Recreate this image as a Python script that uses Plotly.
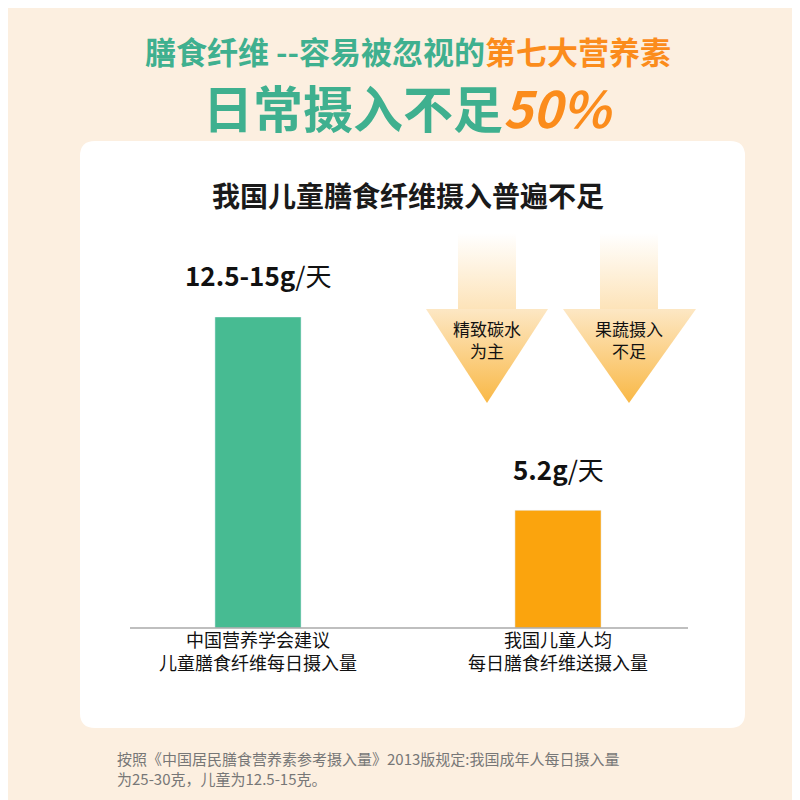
import plotly.graph_objects as go

categories = ["中国营养学会建议<br>儿童膳食纤维每日摄入量", "我国儿童人均<br>每日膳食纤维送摄入量"]
values = [13.75, 5.2]
value_labels = ["<b>12.5-15g</b>/天", "<b>5.2g</b>/天"]
bar_colors = ["#47bb92", "#fba40d"]
arrow_texts = ["精致碳水<br>为主", "果蔬摄入<br>不足"]

FONT = "Noto Sans CJK SC"
TEAL = "#3fb08f"
ORANGE = "#fb8c1c"

fig = go.Figure()

fig.add_trace(go.Bar(
    x=categories, y=values, marker_color=bar_colors, width=0.287,
    showlegend=False, hoverinfo="skip",
))
for c, v, lab in zip(categories, values, value_labels):
    fig.add_annotation(x=c, y=v, yshift=42, text=lab, showarrow=False,
                       font=dict(size=26, color="#111", family=FONT))

# down arrows (decoration, pixel axes)
arrows = [(479, 418, 540, 450, 508), (621, 555, 688, 592, 650)]
for (cx, hl, hr, sl, sr), txt in zip(arrows, arrow_texts):
    fig.add_trace(go.Scatter(
        x=[sl, sr, sr, sl, sl], y=[225, 225, 302, 302, 225], mode="lines",
        line=dict(width=0), fill="toself", xaxis="x2", yaxis="y2",
        fillgradient=dict(type="vertical", colorscale=[[0, "#fde3b8"], [1, "#ffffff"]]),
        showlegend=False, hoverinfo="skip"))
    fig.add_trace(go.Scatter(
        x=[hl, hr, cx, hl], y=[301, 301, 395, 301], mode="lines",
        line=dict(width=0), fill="toself", xaxis="x2", yaxis="y2",
        fillgradient=dict(type="vertical", colorscale=[[0, "#f9b846"], [1, "#fde7c4"]]),
        showlegend=False, hoverinfo="skip"))
    fig.add_annotation(x=cx, y=331, xref="x2", yref="y2", text=txt, showarrow=False,
                       yanchor="middle", font=dict(size=17, color="#111", family=FONT))

# white panel
fig.add_shape(type="path", xref="paper", yref="paper", layer="below",
              path="M 0.1088 0.8338 L 0.9025 0.8338 Q 0.9213 0.8338 0.9213 0.815 "
                   "L 0.9213 0.1188 Q 0.9213 0.1 0.9025 0.1 L 0.1088 0.1 "
                   "Q 0.09 0.1 0.09 0.1188 L 0.09 0.815 Q 0.09 0.8338 0.1088 0.8338 Z",
              fillcolor="white", line=dict(width=0))
fig.add_shape(type="line", xref="paper", yref="paper", x0=0.1525, x1=0.85, y0=0.225, y1=0.225,
              line=dict(color="#aaaaaa", width=1.5))

ann = [
    (0.5, 0.947, "<b><span style='color:%s'>膳食纤维 --容易被忽视的</span><span style='color:%s'>第七大营养素</span></b>" % (TEAL, ORANGE), 31),
    (0.5, 0.877, "<b><span style='color:%s'>日常摄入不足</span><span style='color:%s'><i>50%%</i></span></b>" % (TEAL, ORANGE), 50),
    (0.5, 0.766, "<b>我国儿童膳食纤维摄入普遍不足</b>", 28),
]
for x, y, t, s in ann:
    fig.add_annotation(x=x, y=y, xref="paper", yref="paper", text=t, showarrow=False,
                       yanchor="middle", font=dict(size=s, color="#1a1a1a", family=FONT))
fig.add_annotation(x=0.134, y=0.05, xref="paper", yref="paper", xanchor="left", align="left",
                   yanchor="middle",
                   text="按照《中国居民膳食营养素参考摄入量》2013版规定:我国成年人每日摄入量<br>为25-30克，儿童为12.5-15克。",
                   showarrow=False, font=dict(size=15, color="#777", family=FONT))

fig.update_layout(
    width=800, height=800, margin=dict(l=0, r=0, t=0, b=0),
    paper_bgcolor="#fcefe0", plot_bgcolor="rgba(0,0,0,0)",
    xaxis=dict(domain=[0.125, 0.875], range=[-0.5, 1.5], showgrid=False, showline=False,
               ticks="", tickfont=dict(size=18, color="#111", family=FONT)),
    yaxis=dict(domain=[0.225, 0.6138], range=[0, 13.75], visible=False),
    xaxis2=dict(domain=[0, 1], range=[0, 800], visible=False, anchor="y2"),
    yaxis2=dict(domain=[0, 1], range=[800, 0], visible=False, anchor="x2"),
)

fig.write_html("out.html")
